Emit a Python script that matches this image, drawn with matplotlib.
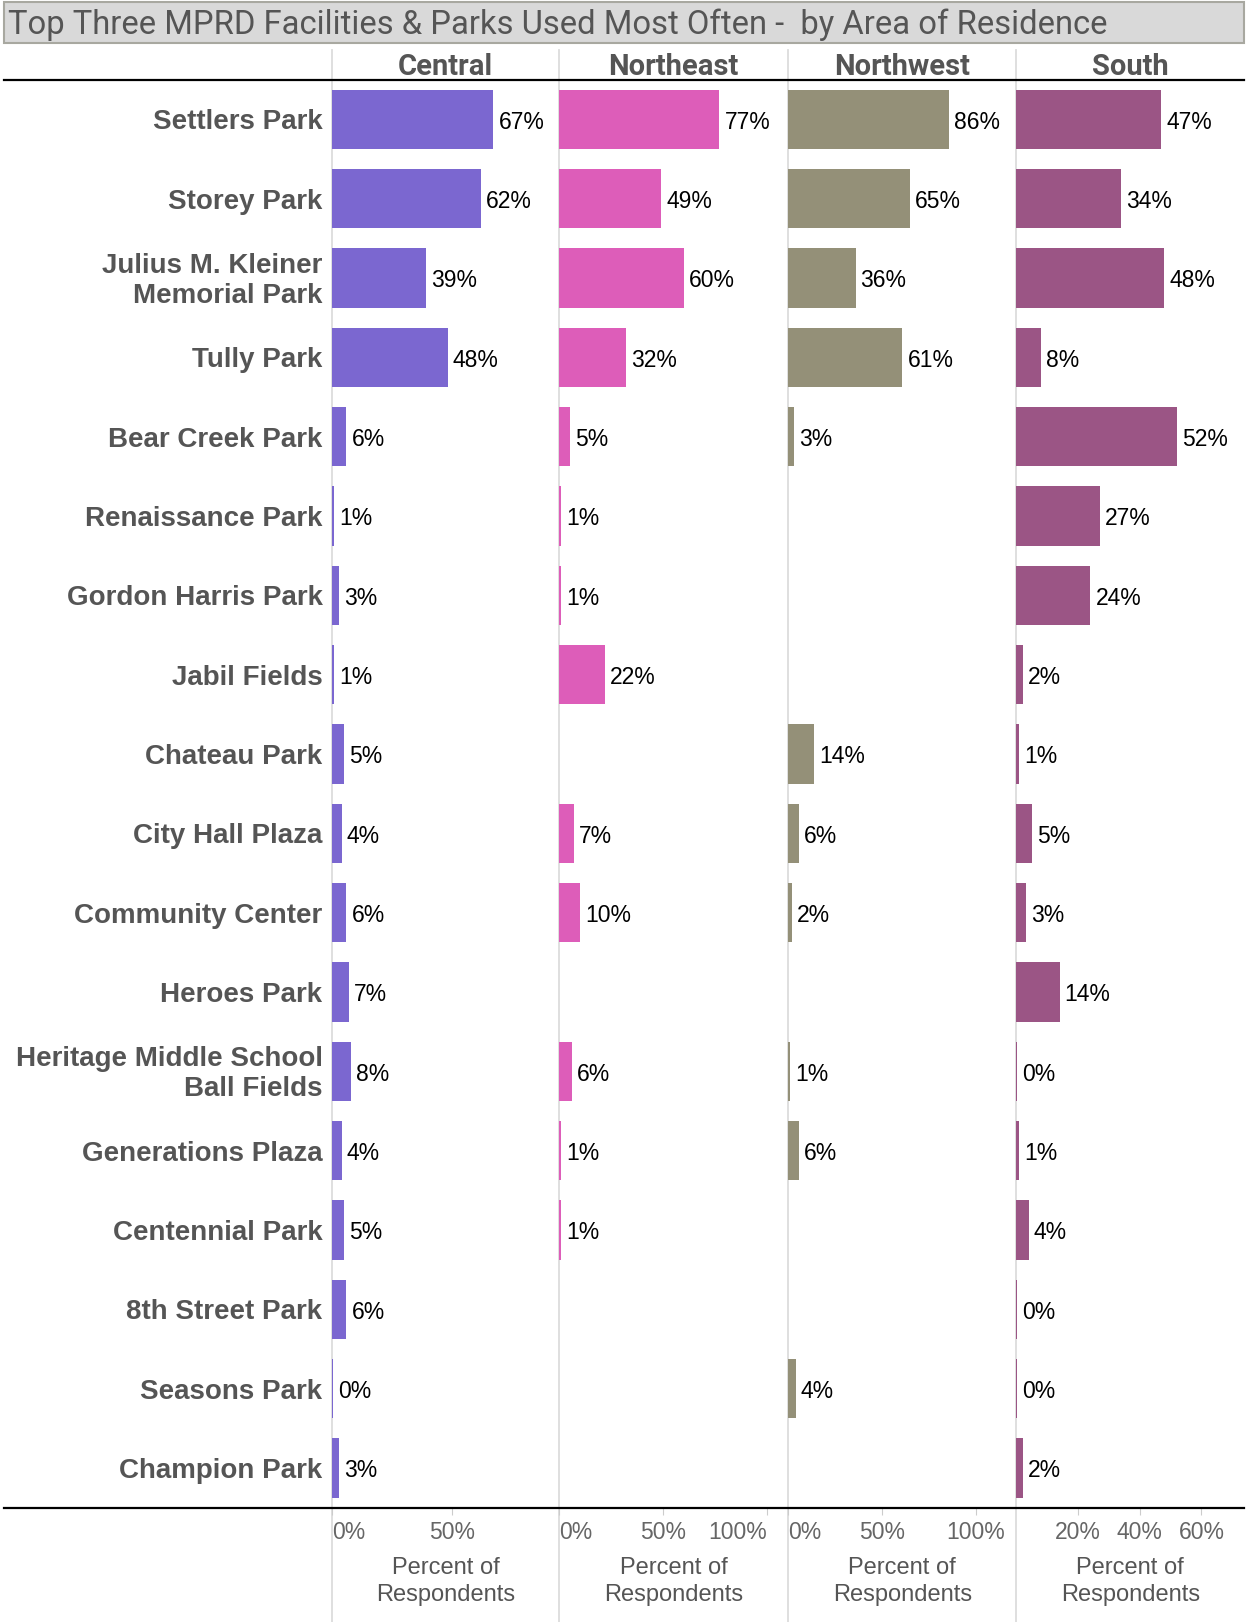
import matplotlib
matplotlib.use("Agg")
import numpy as np
import matplotlib.pyplot as plt
import matplotlib.transforms as mtransforms
from matplotlib.lines import Line2D
from matplotlib.patches import Rectangle

# ---- data ----
parks = ["Settlers Park", "Storey Park", "Julius M. Kleiner\nMemorial Park",
         "Tully Park", "Bear Creek Park", "Renaissance Park", "Gordon Harris Park",
         "Jabil Fields", "Chateau Park", "City Hall Plaza", "Community Center",
         "Heroes Park", "Heritage Middle School\nBall Fields", "Generations Plaza",
         "Centennial Park", "8th Street Park", "Seasons Park", "Champion Park"]
regions = ["Central", "Northeast", "Northwest", "South"]

# None = no respondents shown; 0.3 = shown as "0%" but with a sliver of a bar
central = [67, 62, 39, 48, 6, 1, 3, 1, 5, 4, 6, 7, 8, 4, 5, 6, 0.3, 3]
northeast = [77, 49, 60, 32, 5, 1, 1, 22, None, 7, 10, None, 6, 1, 1, None, None, None]
northwest = [86, 65, 36, 61, 3, None, None, None, 14, 6, 2, None, 1, 6, None, None, 4, None]
south = [47, 34, 48, 8, 52, 27, 24, 2, 1, 5, 3, 14, 0.3, 1, 4, 0.3, 0.3, 2]
region_values = [central, northeast, northwest, south]

x_limits = [94.4, 110, 121.8, 73.8]
x_ticks = [[0, 50], [0, 50, 100], [0, 50, 100], [20, 40, 60]]
colors = ["#7b67d0", "#dd5db9", "#949078", "#9b5585"]

title = "Top Three MPRD Facilities & Parks Used Most Often -  by Area of Residence"

# ---- layout (pixels of the 1246x1622 canvas) ----
W, H = 1246, 1622
panel_edges = [332, 559.4, 788, 1016.4, 1244]
top_px, bottom_px = 79.6, 1507.6
label_right_px = 322.6

narrow = ["Roboto", "DejaVu Sans"]
plt.rcParams["font.family"] = ["Liberation Sans", "DejaVu Sans"]


def fx(px):
    return px / W


def fy(py):
    return 1 - py / H


fig = plt.figure(figsize=(W / 100, H / 100), dpi=100)

# title box
fig.patches.append(Rectangle((fx(4), fy(43.4)), fx(1240), 41.4 / H,
                             transform=fig.transFigure, facecolor="#d9d9d9",
                             edgecolor="#a8a8a0", linewidth=1.5))
fig.text(fx(8), fy(25), title, family=narrow, fontsize=23.6, color="#555555",
         ha="left", va="center")

n = len(parks)
axes_h = (bottom_px - top_px) / H
axes_list = []
for k, region in enumerate(regions):
    left, right = panel_edges[k], panel_edges[k + 1]
    ax = fig.add_axes([fx(left), fy(bottom_px), fx(right - left), axes_h])
    ax.patch.set_visible(False)
    for s in ax.spines.values():
        s.set_visible(False)
    ax.set_xlim(0, x_limits[k])
    ax.set_ylim(n - 0.5, -0.5)
    ax.set_yticks([])

    vals = region_values[k]
    idx = [i for i, v in enumerate(vals) if v is not None]
    ax.barh(idx, [vals[i] for i in idx], height=0.75, color=colors[k], zorder=2)
    for i in idx:
        ax.annotate(f"{vals[i]:.0f}%", (vals[i], i), xytext=(5, -3),
                    textcoords="offset pixels", ha="left", va="center",
                    fontsize=16.5, color="black")

    # ticks and tick labels
    ax.set_xticks(x_ticks[k])
    ax.tick_params(axis="x", length=5, color="#cccccc", labelbottom=False)
    px_per_unit = (right - left) / x_limits[k]
    tick_y = -25 / (bottom_px - top_px)
    trans = mtransforms.blended_transform_factory(ax.transData, ax.transAxes)
    for t in x_ticks[k]:
        ha = "center"
        if t == 0:
            ha = "left"
        elif (x_limits[k] - t) * px_per_unit < 30:
            ha = "right"
        ax.text(t, tick_y, f"{t}%", transform=trans, ha=ha, va="center",
                fontsize=16.5, color="#666666", clip_on=False)
    ax.text(0.5, -74 / (bottom_px - top_px), "Percent of\nRespondents",
            transform=ax.transAxes, ha="center", va="center", fontsize=17,
            color="#555555", linespacing=1.3)

    # header
    fig.text(fx((left + right) / 2), fy(67), region, family=narrow,
             fontweight="bold", fontsize=21, color="#555555",
             ha="center", va="center")
    axes_list.append(ax)

# row labels
row_trans = mtransforms.blended_transform_factory(fig.transFigure, axes_list[0].transData)
row_trans = row_trans + mtransforms.Affine2D().translate(0, -3)
for i, name in enumerate(parks):
    fig.text(fx(label_right_px), i, name, transform=row_trans, ha="right",
             va="center", fontsize=20, fontweight="bold", color="#555555",
             linespacing=1.2, multialignment="right")

# panel dividers and rules
for x in panel_edges[:4]:
    fig.lines.append(Line2D([fx(x), fx(x)], [fy(50), fy(H)], transform=fig.transFigure,
                            color="#dcdcdc", linewidth=1.3, zorder=-1))
for y in (top_px, bottom_px):
    fig.lines.append(Line2D([fx(4), fx(1244)], [fy(y), fy(y)], transform=fig.transFigure,
                            color="black", linewidth=1.6, zorder=3))

fig.savefig("out.png", dpi=100)
